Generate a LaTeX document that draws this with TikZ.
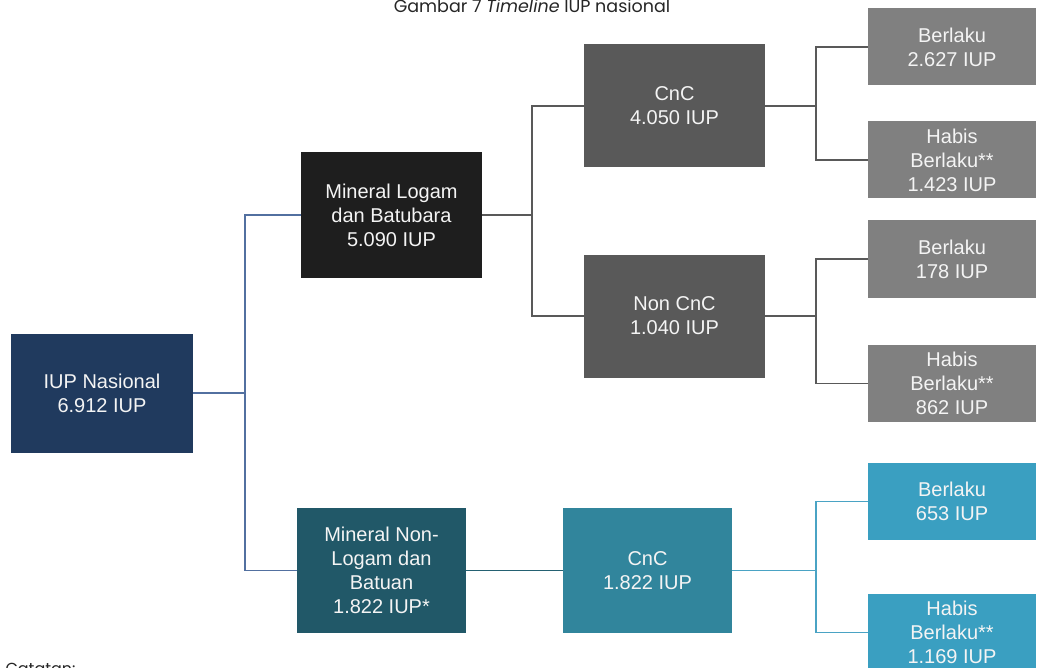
\documentclass[tikz,border=0pt]{standalone}
\usepackage{fontspec}
\setmainfont{Liberation Sans}
\newfontfamily\capfont{Poppins}
\definecolor{cnavy}{HTML}{203A5E}
\definecolor{cnavyline}{HTML}{5270A0}
\definecolor{cblack}{HTML}{1E1E1E}
\definecolor{cdgrey}{HTML}{595959}
\definecolor{cgrey}{HTML}{808080}
\definecolor{cdteal}{HTML}{215868}
\definecolor{cteal}{HTML}{31859C}
\definecolor{clteal}{HTML}{3A9FC1}
\definecolor{ctealline}{HTML}{4AA3C4}
\definecolor{ctxt}{HTML}{F4F4F4}
\begin{document}
\begin{tikzpicture}[x=1pt,y=-1pt,
  boxbase/.style={rectangle, inner sep=0pt, align=center, text=ctxt,
    font=\fontsize{20}{24}\selectfont},
  wide/.style={boxbase, minimum width=181pt, minimum height=124pt},
  mid/.style={boxbase, minimum width=169pt, minimum height=125pt},
  leaf/.style={boxbase, minimum width=168pt, minimum height=77pt},
  captext/.style={font=\capfont\fontsize{17.5}{20}\selectfont, text=black!85},
  conn/.style={line width=1.6pt}]
\useasboundingbox (0,0) rectangle (1040,668);
\clip (0,0) rectangle (1040,668);
\fill[white] (0,0) rectangle (1040,668);

\node[captext, anchor=base] (cap) at (532,12.5) {Gambar 7 \textit{Timeline} IUP nasional};
\node[captext, font=\capfont\fontsize{16}{18}\selectfont, anchor=base west] (cat) at (2,674) {Catatan:};

\node[wide, fill=cnavy, minimum width=182pt, minimum height=119pt] (nas) at (102,393) {IUP Nasional\\6.912 IUP};
\node[wide, fill=cblack, minimum height=126pt] (mlb) at (391.5,215) {Mineral Logam\\dan Batubara\\5.090 IUP};
\node[wide, fill=cdgrey, minimum height=123pt] (cnc1) at (674.5,106) {CnC\\4.050 IUP};
\node[wide, fill=cdgrey, minimum height=123pt] (ncnc) at (674.5,316) {Non CnC\\1.040 IUP};
\node[leaf, fill=cgrey] (b1) at (952,47) {Berlaku\\2.627 IUP};
\node[leaf, fill=cgrey] (h1) at (952,160) {Habis\\Berlaku**\\1.423 IUP};
\node[leaf, fill=cgrey] (b2) at (952,259) {Berlaku\\178 IUP};
\node[leaf, fill=cgrey] (h2) at (952,383.5) {Habis\\Berlaku**\\862 IUP};
\node[mid, fill=cdteal] (mnl) at (381.5,570.5) {Mineral Non-\\Logam dan\\Batuan\\1.822 IUP*};
\node[mid, fill=cteal] (cnc3) at (647.5,570.5) {CnC\\1.822 IUP};
\node[leaf, fill=clteal] (b3) at (952,501.5) {Berlaku\\653 IUP};
\node[leaf, fill=clteal] (h3) at (952,632.5) {Habis\\Berlaku**\\1.169 IUP};

\coordinate (j1) at (245,393);
\coordinate (j2) at (532,215);
\coordinate (j3) at (816,106);
\coordinate (j4) at (816,316);
\coordinate (j5) at (816,570.5);

\draw[conn, cnavyline] (nas.east) -- (j1);
\draw[conn, cnavyline] (mlb.west) -| (j1) |- (mnl.west);
\draw[conn, cdgrey] (mlb.east) -- (j2);
\draw[conn, cdgrey] (cnc1.west) -| (j2) |- (ncnc.west);
\draw[conn, cdgrey] (cnc1.east) -- (j3);
\draw[conn, cdgrey] (b1.west) -| (j3) |- (h1.west);
\draw[conn, cdgrey] (ncnc.east) -- (j4);
\draw[conn, cdgrey] (b2.west) -| (j4) |- (h2.west);
\draw[conn, cdteal!80!cteal] (mnl.east) -- (cnc3.west);
\draw[conn, ctealline] (cnc3.east) -- (j5);
\draw[conn, ctealline] (b3.west) -| (j5) |- (h3.west);
\end{tikzpicture}
\end{document}
